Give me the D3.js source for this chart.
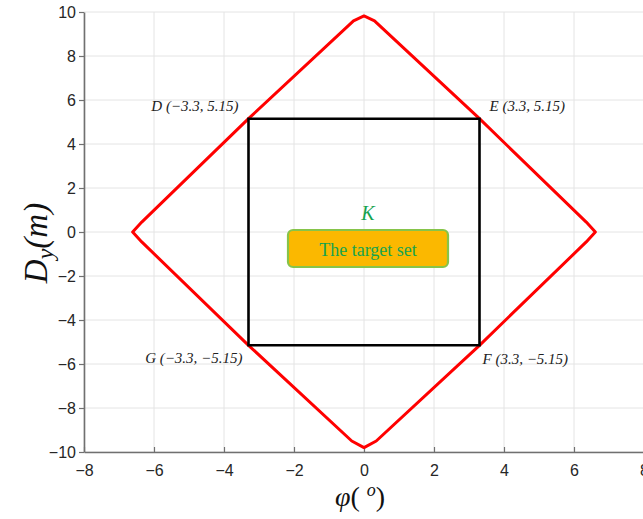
<!DOCTYPE html>
<html>
<head>
<meta charset="utf-8">
<script src="https://cdn.jsdelivr.net/npm/d3@7"></script>
<style>
  html, body { margin: 0; padding: 0; background: #fff; }
  svg { display: block; }
</style>
</head>
<body>
<svg id="chart" width="643" height="519"></svg>
<script>
// Axis ticks
const xTicks = [-8, -6, -4, -2, 0, 2, 4, 6, 8];
const yTicks = [-10, -8, -6, -4, -2, 0, 2, 4, 6, 8, 10];

// Viability boundary (red), traced clockwise from the top vertex
const boundaryPhi = [0, 0.3, 3.3, 6.35, 6.61, 6.35, 3.3, 0.35,
                     0, -0.35, -3.3, -6.35, -6.61, -6.35, -3.3, -0.3];
const boundaryDy  = [9.82, 9.6, 5.15, 0.45, 0, -0.45, -5.15, -9.5,
                     -9.8, -9.5, -5.15, -0.45, 0, 0.45, 5.15, 9.6];

// Target set corners
const cornerNames = ["D", "E", "F", "G"];
const cornerPhi = [-3.3, 3.3, 3.3, -3.3];
const cornerDy  = [5.15, 5.15, -5.15, -5.15];

const svg = d3.select("#chart");
const x = d3.scaleLinear().domain([-8, 8]).range([84, 644]);
const y = d3.scaleLinear().domain([-10, 10]).range([452, 12]);

const axisColor = "#707070";
const tickFont = "'Liberation Sans', Arial, sans-serif";
const serif = "'Liberation Serif', 'Times New Roman', serif";

// Grid
const grid = svg.append("g");
grid.selectAll("line.gx").data(xTicks).join("line")
  .attr("x1", d => x(d)).attr("x2", d => x(d))
  .attr("y1", y(-10)).attr("y2", y(10))
  .attr("stroke", "#e4e4e4").attr("stroke-width", 1);
grid.selectAll("line.gy").data(yTicks).join("line")
  .attr("y1", d => y(d)).attr("y2", d => y(d))
  .attr("x1", x(-8)).attr("x2", x(8))
  .attr("stroke", "#e4e4e4").attr("stroke-width", 1);

// Axes
const fmt = d => d < 0 ? "\u2212" + Math.abs(d) : String(d);
const xAxis = svg.append("g").attr("transform", `translate(0,${y(-10)})`)
  .call(d3.axisBottom(x).tickValues(xTicks).tickFormat(fmt).tickSizeInner(-5).tickSizeOuter(0).tickPadding(13));
const yAxis = svg.append("g").attr("transform", `translate(${x(-8)},0)`)
  .call(d3.axisLeft(y).tickValues(yTicks).tickFormat(fmt).tickSizeInner(5).tickSizeOuter(0).tickPadding(3));
[xAxis, yAxis].forEach(a => {
  a.select(".domain").attr("stroke", axisColor).attr("stroke-width", 1.6);
  a.selectAll(".tick line").attr("stroke", axisColor).attr("stroke-width", 1.2);
  a.selectAll(".tick text").attr("fill", "#262626").attr("font-size", 16).attr("font-family", tickFont);
});

// Boundary curve
const pts = boundaryPhi.map((p, i) => [x(p), y(boundaryDy[i])]);
svg.append("path")
  .attr("d", d3.line().curve(d3.curveLinearClosed)(pts))
  .attr("fill", "none").attr("stroke", "#ff0000").attr("stroke-width", 3)
  .attr("stroke-linejoin", "round");

// Target set rectangle
const corners = cornerPhi.map((p, i) => [x(p), y(cornerDy[i])]);
svg.append("path")
  .attr("d", d3.line().curve(d3.curveLinearClosed)(corners))
  .attr("fill", "none").attr("stroke", "#000").attr("stroke-width", 2.6);

// Corner labels
const labelOffsets = { D: [-10, -8, "end"], E: [10, -8, "start"], F: [3, 19, "start"], G: [-6, 18, "end"] };
cornerNames.forEach((n, i) => {
  const [dx, dy, anchor] = labelOffsets[n];
  const txt = `${n} (${fmt(cornerPhi[i])}, ${fmt(cornerDy[i])})`;
  svg.append("text")
    .attr("x", x(cornerPhi[i]) + dx).attr("y", y(cornerDy[i]) + dy)
    .attr("text-anchor", anchor)
    .attr("font-family", serif).attr("font-style", "italic").attr("font-size", 15)
    .attr("fill", "#222").text(txt);
});

// K label and target-set badge
svg.append("text")
  .attr("x", 368).attr("y", 220).attr("text-anchor", "middle")
  .attr("font-family", serif).attr("font-style", "italic").attr("font-size", 20)
  .attr("fill", "#16a34f").text("K");
svg.append("rect")
  .attr("x", 288).attr("y", 230).attr("width", 160).attr("height", 37).attr("rx", 5)
  .attr("fill", "#fbb800").attr("stroke", "#86c44a").attr("stroke-width", 2.2);
svg.append("text")
  .attr("x", 368).attr("y", 256).attr("text-anchor", "middle")
  .attr("font-family", serif).attr("font-size", 18)
  .attr("fill", "#16a34f").text("The target set");

// Axis titles
const yTitle = svg.append("text")
  .attr("transform", "translate(47,243) rotate(-90)")
  .attr("text-anchor", "middle")
  .attr("font-family", serif).attr("font-style", "italic").attr("font-size", 33).attr("fill", "#111");
yTitle.append("tspan").text("D");
yTitle.append("tspan").attr("font-size", 24).attr("dy", 6).text("y");
yTitle.append("tspan").attr("dy", -6).text("(m)");

const xTitle = svg.append("text")
  .attr("x", 360).attr("y", 506).attr("text-anchor", "middle")
  .attr("font-family", serif).attr("font-size", 28).attr("fill", "#111");
xTitle.append("tspan").attr("font-style", "italic").text("\u03C6");
xTitle.append("tspan").text("( ");
xTitle.append("tspan").attr("font-style", "italic").attr("font-size", 18).attr("dy", -10).text("o");
xTitle.append("tspan").attr("dy", 10).text(")");
</script>
</body>
</html>
